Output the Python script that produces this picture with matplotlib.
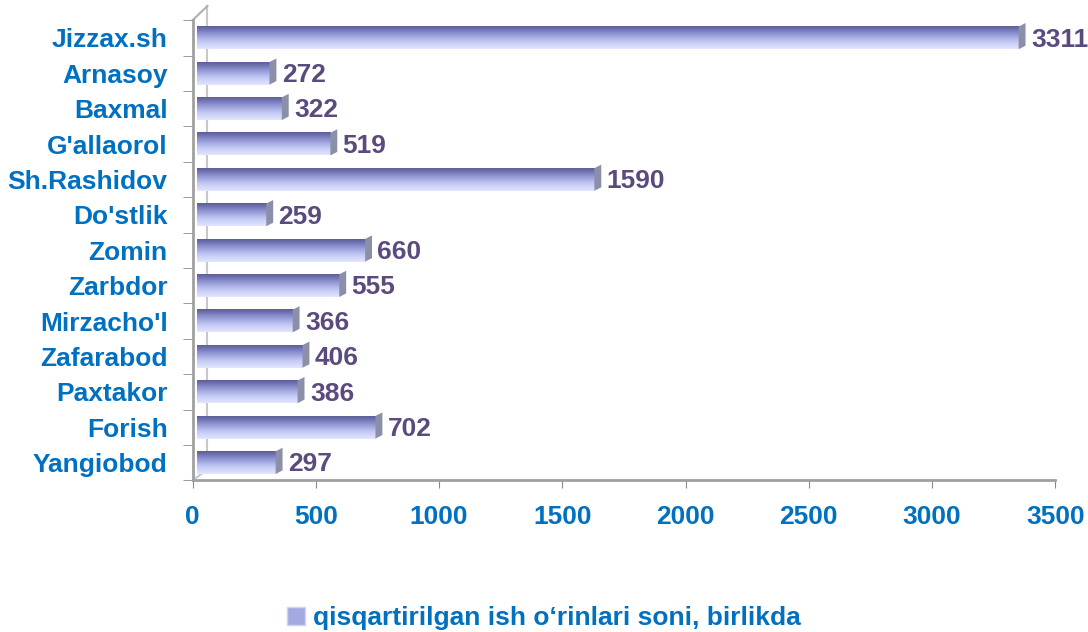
import numpy as np
import matplotlib.pyplot as plt
from matplotlib.colors import LinearSegmentedColormap
from matplotlib.patches import Polygon, Patch

# data
rayonlar = ["Jizzax.sh", "Arnasoy", "Baxmal", "G'allaorol", "Sh.Rashidov", "Do'stlik",
            "Zomin", "Zarbdor", "Mirzacho'l", "Zafarabod", "Paxtakor", "Forish", "Yangiobod"]
qiymatlar = [3311, 272, 322, 519, 1590, 259, 660, 555, 366, 406, 386, 702, 297]
xticks = [0, 500, 1000, 1500, 2000, 2500, 3000, 3500]
legend_text = "qisqartirilgan ish o\u2018rinlari soni, birlikda"

plt.rcParams['font.family'] = ['Liberation Sans', 'DejaVu Sans']
blue = '#0070c0'
purple = '#5b4a7e'
fs = 19

fig = plt.figure(figsize=(10.88, 6.32), dpi=100)
ax = fig.add_axes([0.177, 0.24, 0.793, 0.728])

cmap = LinearSegmentedColormap.from_list('bar', ['#5c5c98', '#8e93d2', '#c2c8f4', '#e2e6fe'])
grad = np.linspace(0, 1, 64).reshape(-1, 1)

h = 0.64      # bar height
s = 16        # 3d shift of the bar start (x units)
d = 28        # 3d depth in x units
dd = 0.1      # 3d depth in y units
for i, v in enumerate(qiymatlar):
    y0, y1 = i - h / 2, i + h / 2
    x1 = v + 40
    ax.imshow(grad, cmap=cmap, aspect='auto', extent=[s, x1, y1, y0], zorder=2, interpolation='bicubic')
    # end cap
    ax.add_patch(Polygon([(x1, y0), (x1 + d, y0 - dd), (x1 + d, y1 - dd), (x1, y1)],
                         closed=True, facecolor='#8c8fa8', edgecolor='none', zorder=2))
    ax.text(x1 + d + 22, i + 0.05, str(v), va='center', ha='left', color=purple,
            fontsize=fs, fontweight='bold', zorder=3)

ax.set_xlim(0, 3500)
ax.set_ylim(len(rayonlar) - 0.5, -0.5)
ax.set_yticks(range(len(rayonlar)))
ax.set_yticklabels(rayonlar)
ax.set_xticks(xticks)
ax.tick_params(axis='both', labelsize=fs, labelcolor=blue, color='#8a8a8a', length=6)
ax.tick_params(axis='y', length=0, pad=18)
ax.tick_params(axis='x', pad=12)
for lab in ax.get_xticklabels() + ax.get_yticklabels():
    lab.set_fontweight('bold')
ax.set_yticks(np.arange(-0.5, len(rayonlar), 1), minor=True)
ax.tick_params(axis='y', which='minor', length=7, color='#8a8a8a')

for sp in ['top', 'right']:
    ax.spines[sp].set_visible(False)
for sp in ['left', 'bottom']:
    ax.spines[sp].set_color('#a0a0a0')
    ax.spines[sp].set_linewidth(2)

# back wall of the 3d frame
ax.plot([60, 60], [12.2, -0.9], color='#c8c8c8', lw=1.5, clip_on=False, zorder=1)
ax.plot([0, 60], [-0.5, -0.9], color='#b0b0b0', lw=1.5, clip_on=False, zorder=1)
ax.plot([0, 60], [12.5, 12.2], color='#c8c8c8', lw=1.5, clip_on=False, zorder=1)

fig.legend(handles=[Patch(facecolor='#a4aae0', edgecolor='#d0d4f0')], labels=[legend_text],
           loc='center', bbox_to_anchor=(0.5, 0.022), frameon=False, handlelength=0.7,
           handleheight=0.7, handletextpad=0.3,
           prop={'size': fs, 'weight': 'bold'}, labelcolor=blue)

fig.savefig('out.png', dpi=100)
